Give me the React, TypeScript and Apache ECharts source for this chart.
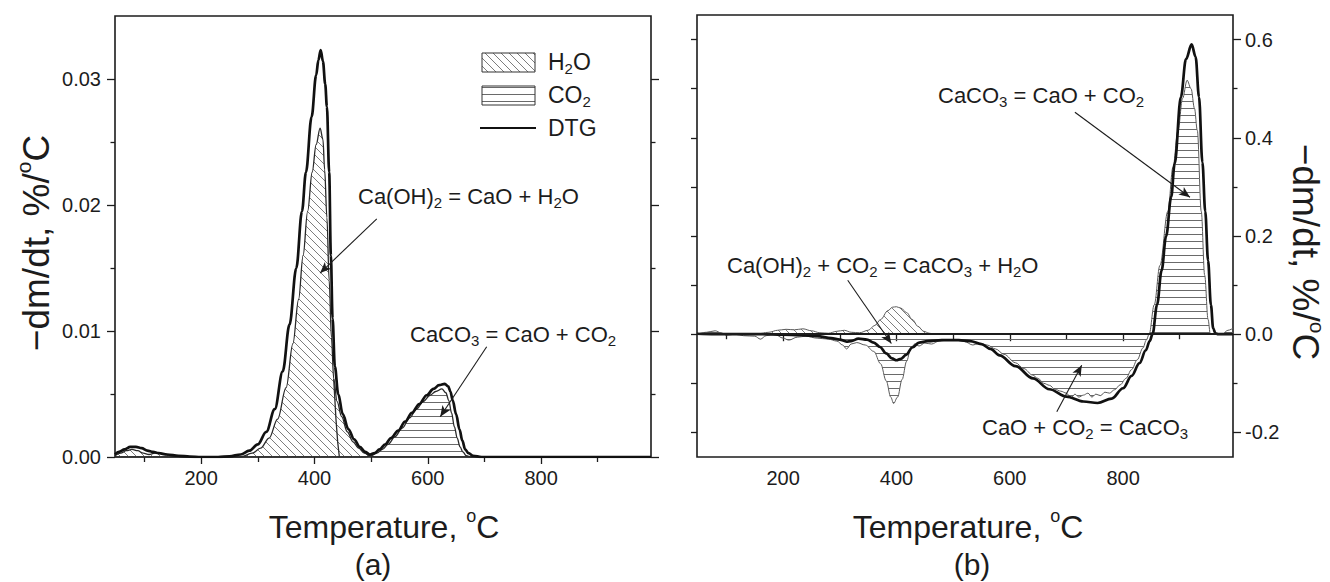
import { useEffect, useRef } from "react";
import * as echarts from "echarts";

// Temperature range shared by both panels (°C)
const T_MIN = 48;
const T_MAX = 994;

// ---- Panel (a): DTG and evolved gas curves, -dm/dt in %/°C ----
const dtgA: [number, number][] = [
  [48, 0.0002], [55, 0.0004], [65, 0.0006], [75, 0.0008], [85, 0.0008], [95, 0.0007],
  [105, 0.0005], [115, 0.0004], [125, 0.0003], [140, 0.0002], [160, 0.0001], [180, 0.00003],
  [200, 0], [230, 0], [250, 0.00005], [270, 0.0002], [285, 0.0005], [300, 0.001],
  [315, 0.002], [330, 0.0038], [344, 0.0068], [356, 0.0105], [368, 0.015], [378, 0.0195],
  [385, 0.0226], [395, 0.027], [403, 0.0303], [407, 0.0315], [411, 0.0323], [415, 0.0314],
  [419, 0.0296], [422, 0.0278], [426, 0.0226], [429, 0.016], [432, 0.011], [436, 0.0072],
  [442, 0.005], [450, 0.0034], [460, 0.0022], [470, 0.0014], [480, 0.0008], [490, 0.0004],
  [498, 0.0002], [506, 0.0003], [515, 0.0006], [525, 0.001], [535, 0.0015], [548, 0.0021],
  [560, 0.0028], [572, 0.0035], [585, 0.0042], [598, 0.0049], [610, 0.0054], [620, 0.0057],
  [630, 0.0058], [636, 0.0056], [640, 0.0052], [644, 0.0045], [650, 0.0034], [656, 0.0022],
  [661, 0.0013], [666, 0.0006], [672, 0.0003], [680, 0.0001], [695, 0], [994, 0],
];

const h2oA: [number, number][] = [
  [48, 0.0001], [58, 0.0003], [68, 0.0005], [78, 0.0006], [88, 0.0005], [98, 0.0003],
  [108, 0.0002], [118, 0.0003], [128, 0.0003], [138, 0.0002], [150, 0.0001], [165, 0],
  [270, 0], [290, 0.0003], [305, 0.0007], [320, 0.0015], [335, 0.003], [350, 0.0055],
  [362, 0.009], [372, 0.0125], [380, 0.016], [388, 0.0195], [396, 0.0226], [403, 0.0248],
  [410, 0.0261], [415, 0.0252], [418, 0.0228], [422, 0.019], [426, 0.014], [430, 0.0095],
  [434, 0.0062], [440, 0.0044], [448, 0.0032], [458, 0.002], [468, 0.0012], [478, 0.0007],
  [488, 0.0003], [498, 0.0001], [508, 0], [994, 0],
];

// steep trailing edge of the water peak
const h2oEdgeA: [number, number][] = [
  [434, 0.0062], [438, 0.003], [441, 0.0012], [444, 0],
];

const co2A: [number, number][] = [
  [48, 0], [490, 0], [500, 0.0001], [510, 0.0003], [520, 0.0006], [530, 0.001],
  [542, 0.0016], [555, 0.0023], [568, 0.0031], [580, 0.0038], [592, 0.0044], [604, 0.0049],
  [614, 0.0052], [625, 0.0054], [632, 0.0051], [637, 0.0045], [642, 0.0035], [647, 0.0024],
  [652, 0.0015], [657, 0.0008], [662, 0.0004], [668, 0.0001], [676, 0], [994, 0],
];

// ---- Panel (b): carbonation run, -dm/dt in %/°C ----
const dtgB: [number, number][] = [
  [48, 0.001], [80, 0], [120, 0], [160, 0], [200, -0.001], [230, -0.002], [260, -0.004],
  [285, -0.008], [300, -0.011], [312, -0.015], [320, -0.014], [333, -0.009], [348, -0.011],
  [360, -0.017], [371, -0.026], [382, -0.039], [392, -0.049], [400, -0.053], [408, -0.05],
  [417, -0.042], [428, -0.027], [440, -0.017], [455, -0.014], [480, -0.012], [510, -0.012],
  [530, -0.014], [550, -0.02], [566, -0.03], [582, -0.043], [610, -0.065], [641, -0.09],
  [670, -0.112], [700, -0.127], [730, -0.137], [755, -0.14], [780, -0.131], [800, -0.11],
  [815, -0.085], [829, -0.059], [840, -0.033], [847, -0.014], [852, 0], [860, 0.06],
  [868, 0.13], [876, 0.2], [885, 0.28], [891, 0.347], [902, 0.483], [911, 0.56],
  [921, 0.59], [928, 0.565], [934, 0.483], [940, 0.35], [945, 0.25], [950, 0.15],
  [955, 0.06], [959, 0.012], [963, 0.002], [968, 0], [994, 0],
];

const co2B: [number, number][] = [
  [48, 0], [65, 0.004], [80, 0.007], [90, 0.003], [100, -0.002], [115, 0], [130, -0.003],
  [150, -0.004], [160, -0.01], [170, -0.003], [185, 0], [200, -0.008], [210, -0.012],
  [225, -0.006], [240, -0.004], [260, -0.008], [280, -0.01], [295, -0.014], [305, -0.022],
  [312, -0.03], [320, -0.02], [330, -0.017], [345, -0.022], [360, -0.035], [372, -0.06],
  [382, -0.095], [390, -0.128], [395, -0.141], [402, -0.128], [410, -0.092], [418, -0.055],
  [425, -0.03], [432, -0.02], [440, -0.024], [450, -0.018], [462, -0.02], [475, -0.014],
  [490, -0.012], [505, -0.012], [520, -0.015], [535, -0.022], [545, -0.019], [560, -0.022],
  [575, -0.03], [590, -0.041], [610, -0.058], [625, -0.07], [640, -0.083], [650, -0.09],
  [660, -0.1], [670, -0.104], [680, -0.112], [690, -0.116], [700, -0.12], [708, -0.13],
  [715, -0.122], [722, -0.128], [730, -0.124], [738, -0.12], [745, -0.128], [752, -0.122],
  [760, -0.125], [768, -0.118], [776, -0.12], [785, -0.113], [795, -0.103], [805, -0.09],
  [815, -0.072], [825, -0.052], [835, -0.028], [841, -0.012], [846, 0], [855, 0.06],
  [865, 0.14], [879, 0.25], [888, 0.34], [897, 0.415], [905, 0.48], [913, 0.517],
  [920, 0.5], [926, 0.46], [931, 0.415], [938, 0.25], [944, 0.12], [950, 0.03],
  [954, 0], [975, 0], [985, 0.008], [994, 0.012],
];

const h2oB: [number, number][] = [
  [48, 0], [70, 0.002], [90, 0], [120, 0.001], [150, 0], [175, 0.004], [190, 0.008],
  [205, 0.01], [220, 0.009], [235, 0.011], [250, 0.007], [265, 0.003], [280, 0.002],
  [295, 0.006], [308, 0.008], [320, 0.004], [335, 0.003], [350, 0.008], [362, 0.018],
  [372, 0.03], [385, 0.048], [393, 0.055], [400, 0.056], [408, 0.053], [418, 0.044],
  [428, 0.03], [438, 0.016], [448, 0.006], [458, 0.002], [470, 0], [994, 0],
];

// ---- Axis ticks ----
const tempLabels = [200, 400, 600, 800];
const tempMinor = [100, 300, 500, 700, 900];
const rateTicksA = [0, 0.01, 0.02, 0.03];
const rateMinorA = [0.005, 0.015, 0.025];
const rateTicksB = [-0.2, 0, 0.2, 0.4, 0.6];
const rateMinorB = [-0.1, 0.1, 0.3, 0.5];
const rateLeftB = [-0.2, -0.1, 0, 0.1, 0.2, 0.3, 0.4, 0.5, 0.6];

// ---- Annotation arrows: [from, to] in data coordinates ----
const arrowsA: [number, number][][] = [
  [[510, 0.0189], [410, 0.0146]],
  [[704, 0.00875], [622, 0.0032]],
];
const arrowsB: [number, number][][] = [
  [[314, 0.11], [391, -0.019]],
  [[715, 0.452], [918, 0.279]],
  [[683, -0.158], [727, -0.063]],
];

const FONT = "'Liberation Sans', Arial, Helvetica, sans-serif";
const INK = "#1c1c1c";

function hatch(kind: "diag" | "horiz") {
  const c = document.createElement("canvas");
  const ctx = c.getContext("2d")!;
  if (kind === "horiz") {
    c.width = 8;
    c.height = 7;
    ctx.fillStyle = "#6a6a6a";
    ctx.fillRect(0, 3, 8, 1);
  } else {
    c.width = 8;
    c.height = 8;
    ctx.strokeStyle = "#6e6e6e";
    ctx.lineWidth = 0.9;
    ctx.beginPath();
    ctx.moveTo(-2, -2);
    ctx.lineTo(10, 10);
    ctx.moveTo(-2, 6);
    ctx.lineTo(2, 10);
    ctx.moveTo(6, -2);
    ctx.lineTo(10, 2);
    ctx.stroke();
  }
  return { image: c, repeat: "repeat", imageWidth: c.width, imageHeight: c.height };
}

function tickAxis(
  gridIndex: number,
  position: string,
  min: number,
  max: number,
  ticks: number[],
  length: number,
  labelFmt?: (v: number) => string,
  margin = 12
) {
  return {
    type: "value",
    gridIndex,
    position,
    min,
    max,
    axisLine: { show: false },
    splitLine: { show: false },
    axisTick: {
      show: true,
      length,
      customValues: ticks,
      lineStyle: { color: INK, width: 1.3 },
    },
    axisLabel: labelFmt
      ? {
          show: true,
          customValues: ticks,
          formatter: labelFmt,
          margin,
          color: INK,
          fontSize: 20,
          fontFamily: FONT,
        }
      : { show: false },
  };
}

const annRich = {
  n: { fontSize: 22, lineHeight: 28, fontFamily: FONT, fill: INK, verticalAlign: "middle" },
  s: { fontSize: 15, lineHeight: 6, fontFamily: FONT, fill: INK, verticalAlign: "bottom" },
};
const legendRich = {
  n: { fontSize: 23, lineHeight: 28, fontFamily: FONT, fill: INK, verticalAlign: "middle" },
  s: { fontSize: 15, lineHeight: 6, fontFamily: FONT, fill: INK, verticalAlign: "bottom" },
};
const titleRich = {
  n: { fontSize: 32, lineHeight: 40, fontFamily: FONT, fill: INK, verticalAlign: "middle" },
  o: { fontSize: 18, lineHeight: 21, fontFamily: FONT, fill: INK, verticalAlign: "top" },
};
const panelRich = {
  n: { fontSize: 30, lineHeight: 30, fontFamily: FONT, fill: INK, verticalAlign: "middle" },
};
const yTitleRich = {
  n: { fontSize: 37, lineHeight: 46, fontFamily: FONT, fill: INK, verticalAlign: "middle" },
  o: { fontSize: 21, lineHeight: 24, fontFamily: FONT, fill: INK, verticalAlign: "top" },
};

function text(x: number, y: number, t: string, rich: any, align = "left", rotation = 0) {
  return {
    type: "text",
    x,
    y,
    rotation,
    silent: true,
    style: {
      text: t,
      rich,
      align,
      verticalAlign: "middle",
      textAlign: align,
      textVerticalAlign: "middle",
      fontFamily: FONT,
      fontSize: 22,
      fill: INK,
    },
  };
}

function arrowMarks(list: [number, number][][]) {
  return {
    silent: true,
    animation: false,
    symbol: ["none", "arrow"],
    symbolSize: [7, 11],
    label: { show: false },
    lineStyle: { color: INK, width: 1.1, type: "solid" },
    emphasis: { disabled: true },
    data: list.map(([a, b]) => [{ coord: a }, { coord: b }]),
  };
}

export default function App() {
  const ref = useRef<HTMLDivElement>(null);

  useEffect(() => {
    const el = ref.current;
    if (!el) return;
    const chart = echarts.init(el, undefined, { renderer: "svg" });
    const diag = hatch("diag");
    const horiz = hatch("horiz");

    const thinA = { color: "#2a2a2a", width: 1.3 };
    const thinB = { color: "#5a5a5a", width: 1 };
    const thick = { color: "#111", width: 2.7 };
    const base = {
      type: "line",
      showSymbol: false,
      symbol: "none",
      smooth: 0.35,
      smoothMonotone: "x",
      emphasis: { disabled: true },
      silent: true,
    };

    chart.setOption({
      animation: false,
      backgroundColor: "#fff",
      grid: [
        {
          left: 115, top: 16, width: 536, height: 441, show: true,
          borderColor: INK, borderWidth: 1.6, backgroundColor: "transparent",
          containLabel: false, outerBoundsMode: "none",
        },
        {
          left: 697, top: 15, width: 536, height: 442, show: true,
          borderColor: INK, borderWidth: 1.6, backgroundColor: "transparent",
          containLabel: false, outerBoundsMode: "none",
        },
      ],
      xAxis: [
        tickAxis(0, "bottom", T_MIN, T_MAX, tempLabels, 7, (v: number) => String(v), 11),
        tickAxis(0, "bottom", T_MIN, T_MAX, tempMinor, 5),
        tickAxis(1, "bottom", T_MIN, T_MAX, tempLabels, 7, (v: number) => String(v), 11),
        tickAxis(1, "bottom", T_MIN, T_MAX, tempMinor, 5),
      ],
      yAxis: [
        tickAxis(0, "left", 0, 0.035, rateTicksA, 8, (v: number) => v.toFixed(2), 14),
        tickAxis(0, "left", 0, 0.035, rateMinorA, 4.5),
        tickAxis(0, "right", 0, 0.035, rateTicksA, 8),
        tickAxis(0, "right", 0, 0.035, rateMinorA, 4.5),
        tickAxis(1, "left", -0.25, 0.65, rateLeftB, 6),
        tickAxis(1, "right", -0.25, 0.65, rateTicksB, 8, (v: number) => v.toFixed(1), 12),
        tickAxis(1, "right", -0.25, 0.65, rateMinorB, 4.5),
      ],
      series: [
        // panel (a)
        { ...base, name: "H2O", xAxisIndex: 0, yAxisIndex: 0, data: h2oA, lineStyle: thinA, areaStyle: { color: diag, opacity: 1 }, z: 2 },
        { ...base, name: "H2O edge", xAxisIndex: 0, yAxisIndex: 0, data: h2oEdgeA, smooth: false, lineStyle: thinA, z: 3 },
        { ...base, name: "CO2", xAxisIndex: 0, yAxisIndex: 0, data: co2A, lineStyle: thinA, areaStyle: { color: horiz, opacity: 1 }, z: 2, markLine: arrowMarks(arrowsA) },
        { ...base, name: "DTG", xAxisIndex: 0, yAxisIndex: 0, data: dtgA, lineStyle: thick, z: 4 },
        // panel (b)
        { ...base, name: "CO2 (b)", xAxisIndex: 2, yAxisIndex: 5, data: co2B, lineStyle: thinB, areaStyle: { color: horiz, opacity: 1 }, z: 2, markLine: arrowMarks(arrowsB) },
        { ...base, name: "H2O (b)", xAxisIndex: 2, yAxisIndex: 5, data: h2oB, lineStyle: thinB, areaStyle: { color: diag, opacity: 1 }, z: 2 },
        {
          ...base, name: "DTG (b)", xAxisIndex: 2, yAxisIndex: 5, data: dtgB, lineStyle: thick, z: 4,
          markLine: {
            silent: true, animation: false, symbol: "none", label: { show: false },
            lineStyle: { color: INK, width: 2, type: "solid" },
            emphasis: { disabled: true },
            data: [{ yAxis: 0 }],
          },
        },
      ],
      graphic: [
        // legend of panel (a)
        { type: "rect", shape: { x: 482, y: 53, width: 53, height: 19 }, style: { fill: diag, stroke: "#333", lineWidth: 1 }, silent: true },
        text(548, 62, "{n|H}{s|2}{n|O}", legendRich),
        { type: "rect", shape: { x: 482, y: 86, width: 53, height: 19 }, style: { fill: horiz, stroke: "#333", lineWidth: 1 }, silent: true },
        text(548, 95, "{n|CO}{s|2}", legendRich),
        { type: "line", shape: { x1: 480, y1: 128, x2: 536, y2: 128 }, style: { stroke: "#111", lineWidth: 2 }, silent: true },
        text(548, 128, "{n|DTG}", legendRich),

        // reaction labels
        text(358, 196, "{n|Ca(OH)}{s|2}{n| = CaO + H}{s|2}{n|O}", annRich),
        text(410, 334, "{n|CaCO}{s|3}{n| = CaO + CO}{s|2}", annRich),
        text(727, 265, "{n|Ca(OH)}{s|2}{n| + CO}{s|2}{n| = CaCO}{s|3}{n| + H}{s|2}{n|O}", annRich),
        text(938, 95, "{n|CaCO}{s|3}{n| = CaO + CO}{s|2}", annRich),
        text(982, 427, "{n|CaO + CO}{s|2}{n| = CaCO}{s|3}", annRich),

        // axis titles
        text(36, 243, "{n|−dm/dt, %/}{o|o}{n|C}", yTitleRich, "center", Math.PI / 2),
        text(1305, 252, "{n|−dm/dt, %/}{o|o}{n|C}", yTitleRich, "center", -Math.PI / 2),
        text(384, 527, "{n|Temperature, }{o|o}{n|C}", titleRich, "center"),
        text(968, 527, "{n|Temperature, }{o|o}{n|C}", titleRich, "center"),
        text(373, 564, "{n|(a)}", panelRich, "center"),
        text(972, 564, "{n|(b)}", panelRich, "center"),
      ],
    });

    return () => chart.dispose();
  }, []);

  return (
    <div
      ref={ref}
      style={{ position: "fixed", left: 0, top: 0, width: 1330, height: 582, background: "#fff" }}
    />
  );
}
